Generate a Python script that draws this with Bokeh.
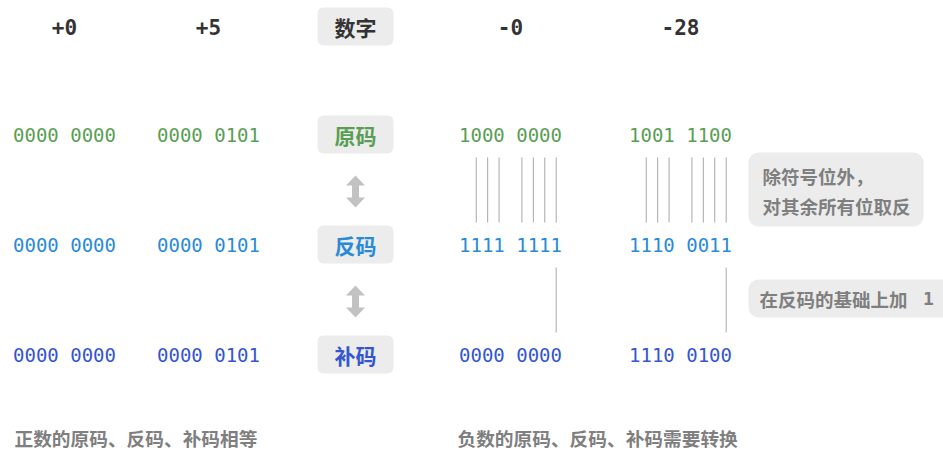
from bokeh.plotting import figure
from bokeh.models import Range1d
from bokeh.core.properties import value
from bokeh.embed import file_html
from bokeh.resources import INLINE

# ---------------- data ----------------
numbers = ["+0", "+5", "-0", "-28"]
sign_magnitude = ["0000 0000", "0000 0101", "1000 0000", "1001 1100"]   # 原码
ones_complement = ["0000 0000", "0000 0101", "1111 1111", "1110 0011"]  # 反码
twos_complement = ["0000 0000", "0000 0101", "0000 0000", "1110 0100"]  # 补码
row_labels = ["数字", "原码", "反码", "补码"]
negative_cols = [2, 3]
note_flip = ["除符号位外，", "对其余所有位取反"]
note_add = "在反码的基础上加 1"
footers = ["正数的原码、反码、补码相等", "负数的原码、反码、补码需要转换"]

# ---------------- layout / style ----------------
W, H = 943, 450
col_x = [64, 208, 510, 680]
row_y = [26, 134, 244, 354]
label_x = 355
char_w = 11.42
MONO = "DejaVu Sans Mono"
CJK = "Noto Sans CJK SC"
row_colors = ["#333333", "#5a9e55", "#2a8ad6", "#3456d0"]
box_fill = "#ececec"
gray_text = "#7f7f7f"
line_col = "#a8a8a8"
arrow_col = "#c2c2c2"

p = figure(width=W, height=H, x_range=Range1d(0, W), y_range=Range1d(H, 0),
           output_backend="svg", toolbar_location=None, min_border=0,
           x_axis_location=None, y_axis_location=None)
p.grid.visible = False
p.outline_line_color = None
p.background_fill_color = "white"
p.border_fill_color = "white"

# header numbers
p.text(x=col_x, y=[row_y[0]] * 4, text=numbers, text_font=value(MONO), text_font_style="bold",
       text_font_size="21px", text_color=row_colors[0], text_align="center", text_baseline="middle")

# bit strings
for r, vals in zip([1, 2, 3], [sign_magnitude, ones_complement, twos_complement]):
    p.text(x=col_x, y=[row_y[r]] * len(vals), text=vals, text_font=value(MONO),
           text_font_size="19px", text_color=row_colors[r], text_align="center", text_baseline="middle")

# label boxes
bw, bh = 76, 38
p.quad(left=[label_x - bw / 2] * 4, right=[label_x + bw / 2] * 4,
       top=[y - bh / 2 for y in row_y], bottom=[y + bh / 2 for y in row_y],
       fill_color=box_fill, line_color=None, border_radius=6)
p.text(x=[label_x] * 4, y=row_y, text=row_labels, text_font=value(CJK), text_font_style="bold",
       text_font_size="21px", text_color=row_colors, text_align="center", text_baseline="middle")

# double arrows between label boxes
arrow_h, head_h, head_w, shaft_w = 32, 10, 19, 7
xs, ys = [], []
for a, b in zip(row_y[1:-1], row_y[2:]):
    cy = (a + b) / 2 + 2
    t, bt = cy - arrow_h / 2, cy + arrow_h / 2
    hx, sx = head_w / 2, shaft_w / 2
    xs.append([label_x, label_x + hx, label_x + sx, label_x + sx, label_x + hx, label_x,
               label_x - hx, label_x - sx, label_x - sx, label_x - hx])
    ys.append([t, t + head_h, t + head_h, bt - head_h, bt - head_h, bt,
               bt - head_h, bt - head_h, t + head_h, t + head_h])
p.patches(xs=xs, ys=ys, fill_color=arrow_col, line_color=None)

# connector lines for negative numbers
def bit_x(c, i):
    left = col_x[c] - 4.5 * char_w
    return left + (i + (1 if i >= 4 else 0) + 0.5) * char_w

x0s, y0s, x1s, y1s = [], [], [], []
for c in negative_cols:
    for i in range(1, 8):
        x = bit_x(c, i)
        x0s.append(x); x1s.append(x); y0s.append(row_y[1] + 23); y1s.append(row_y[2] - 22)
    x = bit_x(c, 7)
    x0s.append(x); x1s.append(x); y0s.append(row_y[2] + 23); y1s.append(row_y[3] - 22)
p.segment(x0=x0s, y0=y0s, x1=x1s, y1=y1s, line_color=line_col, line_width=1)

# notes
p.quad(left=[748, 748], right=[923, 960], top=[152, 279], bottom=[226, 317],
       fill_color=box_fill, line_color=None, border_radius=10)
p.text(x=[762, 762], y=[175, 205], text=note_flip, text_font=value(CJK), text_font_style="bold",
       text_font_size="18.5px", text_color=gray_text, text_align="left", text_baseline="middle")
add_words, add_num = note_add.rsplit(" ", 1)
p.text(x=[759], y=[298], text=[add_words], text_font=value(CJK), text_font_style="bold",
       text_font_size="18.5px", text_color=gray_text, text_align="left", text_baseline="middle")
p.text(x=[928], y=[298], text=[add_num], text_font=value(MONO), text_font_style="bold",
       text_font_size="18px", text_color=gray_text, text_align="center", text_baseline="middle")

# footers
p.text(x=[14, 457], y=[437, 437], text=footers, text_font=value(CJK), text_font_style="bold",
       text_font_size="18.7px", text_color=gray_text, text_align="left", text_baseline="middle")

open("out.html", "w").write(file_html(p, INLINE))
